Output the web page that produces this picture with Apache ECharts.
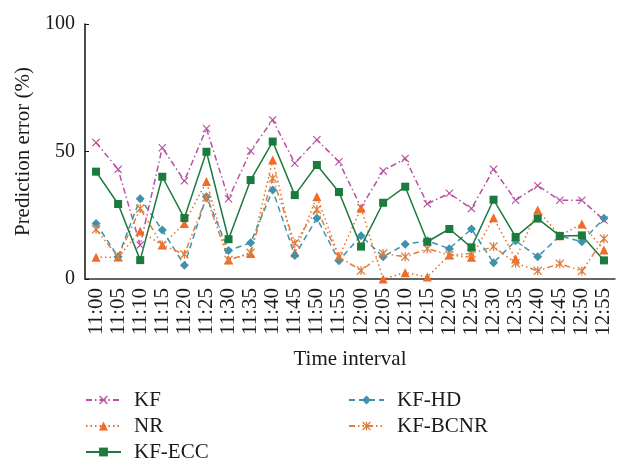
<!DOCTYPE html>
<html>
<head>
<meta charset="utf-8">
<script src="https://cdn.jsdelivr.net/npm/echarts@6/dist/echarts.min.js"></script>
<style>
  html, body { margin: 0; padding: 0; background: #fff; }
  #chart { width: 617px; height: 461px; }
</style>
</head>
<body>
<div id="chart"></div>
<script>
const categories = ['11:00', '11:05', '11:10', '11:15', '11:20', '11:25', '11:30', '11:35',
  '11:40', '11:45', '11:50', '11:55', '12:00', '12:05', '12:10', '12:15',
  '12:20', '12:25', '12:30', '12:35', '12:40', '12:45', '12:50', '12:55']

const kf = [53.5, 43, 13.3, 51.5, 38.5, 59, 31.5, 50.2, 62.4, 45.4, 54.6, 46,
  28.1, 42.4, 47.3, 29.5, 33.6, 27.6, 43, 30.9, 36.6, 30.9, 30.9, 23.1]
const nr = [8.5, 8.6, 18.8, 13.3, 21.8, 38.2, 7.5, 10, 46.7, 10.3, 32.3, 8.7,
  27.7, 0, 2.5, 0.8, 9.4, 8.5, 24, 7.8, 27.1, 17, 21.6, 11.4]
const kfEcc = [42.1, 29.4, 7.4, 40.1, 23.9, 49.9, 15.6, 38.8, 53.9, 32.9, 44.7, 34.1,
  12.7, 29.9, 36.2, 14.6, 19.6, 12.4, 31.1, 16.5, 23.7, 16.9, 17.1, 7.3]
const kfHd = [21.8, 8.7, 31.5, 19.2, 5.4, 32.3, 11.2, 14.2, 34.9, 9.2, 23.8, 7.2,
  17, 8.7, 13.6, 15, 11.9, 19.6, 6.4, 15, 8.7, 16.9, 14.6, 23.8]
const kfBcnr = [19.5, 8.6, 27.6, 13.3, 9.7, 32, 7.5, 10.3, 39.5, 14, 27.3, 8.7,
  3.3, 10, 8.7, 11.9, 9.4, 10, 12.7, 6.2, 3.2, 6, 3.1, 15.8]

const yTicks = [0, 50, 100]

const FONT = 'Liberation Serif'

// custom marker shapes
const crossPath = 'path://M1,0L5,4L9,0L10,1L6,5L10,9L9,10L5,6L1,10L0,9L4,5L0,1Z'
const starPath = 'path://M1,0L5,4L9,0L10,1L6,5L10,9L9,10L5,6L1,10L0,9L4,5L0,1Z M4.3,0L5.7,0L5.7,10L4.3,10Z'

const makeSeries = (name, data, color, symbol, size, dash) => ({
  name,
  type: 'line',
  data,
  symbol,
  symbolSize: size,
  lineStyle: { color, width: 1.5, type: dash },
  itemStyle: { color }
})

const chart = echarts.init(document.getElementById('chart'))

const legendText = {
  fontFamily: FONT,
  fontSize: 21,
  color: '#1a1a1a',
  lineHeight: 22,
  padding: [0, 0, 0, 8]
}

const legendBase = {
  orient: 'vertical',
  top: 389,
  height: 80,
  padding: 0,
  itemWidth: 35,
  itemHeight: 11,
  itemGap: 4,
  textStyle: legendText
}

chart.setOption({
  animation: false,
  textStyle: { fontFamily: FONT },
  grid: { left: 85, right: 2, top: 24, bottom: 182 },
  legend: [
    { ...legendBase, data: ['KF', 'NR', 'KF-ECC'], left: 85 },
    { ...legendBase, data: ['KF-HD', 'KF-BCNR'], left: 348 }
  ],
  xAxis: {
    type: 'category',
    data: categories,
    boundaryGap: true,
    name: 'Time interval',
    nameLocation: 'middle',
    nameGap: 70,
    nameTextStyle: { fontFamily: FONT, fontSize: 21, color: '#1a1a1a' },
    axisLine: { lineStyle: { color: '#333', width: 1.5 } },
    axisTick: { show: false },
    axisLabel: {
      rotate: 90,
      interval: 0,
      margin: 9,
      fontFamily: FONT,
      fontSize: 21,
      color: '#1a1a1a'
    }
  },
  yAxis: {
    type: 'value',
    min: yTicks[0],
    max: yTicks[yTicks.length - 1],
    interval: 50,
    name: 'Prediction error (%)',
    nameLocation: 'middle',
    nameGap: 50,
    nameTextStyle: { fontFamily: FONT, fontSize: 21, color: '#1a1a1a' },
    axisLine: { show: true, lineStyle: { color: '#111', width: 1.5 } },
    axisTick: { show: true, inside: true, length: 4, lineStyle: { color: '#111' } },
    splitLine: { show: false },
    axisLabel: {
      margin: 10,
      fontFamily: FONT,
      fontSize: 20,
      color: '#1a1a1a'
    }
  },
  series: [
    makeSeries('KF', kf, '#b8509f', crossPath, 8, [6, 3, 1.5, 3]),
    makeSeries('NR', nr, '#f26a24', 'triangle', 9, [1.5, 3]),
    makeSeries('KF-HD', kfHd, '#3d93ae', 'diamond', 9, [6, 4]),
    makeSeries('KF-BCNR', kfBcnr, '#e07d3c', starPath, 9, [6, 3, 1.5, 3, 1.5, 3]),
    makeSeries('KF-ECC', kfEcc, '#1b7a3d', 'rect', 8, 'solid')
  ]
})
</script>
</body>
</html>
